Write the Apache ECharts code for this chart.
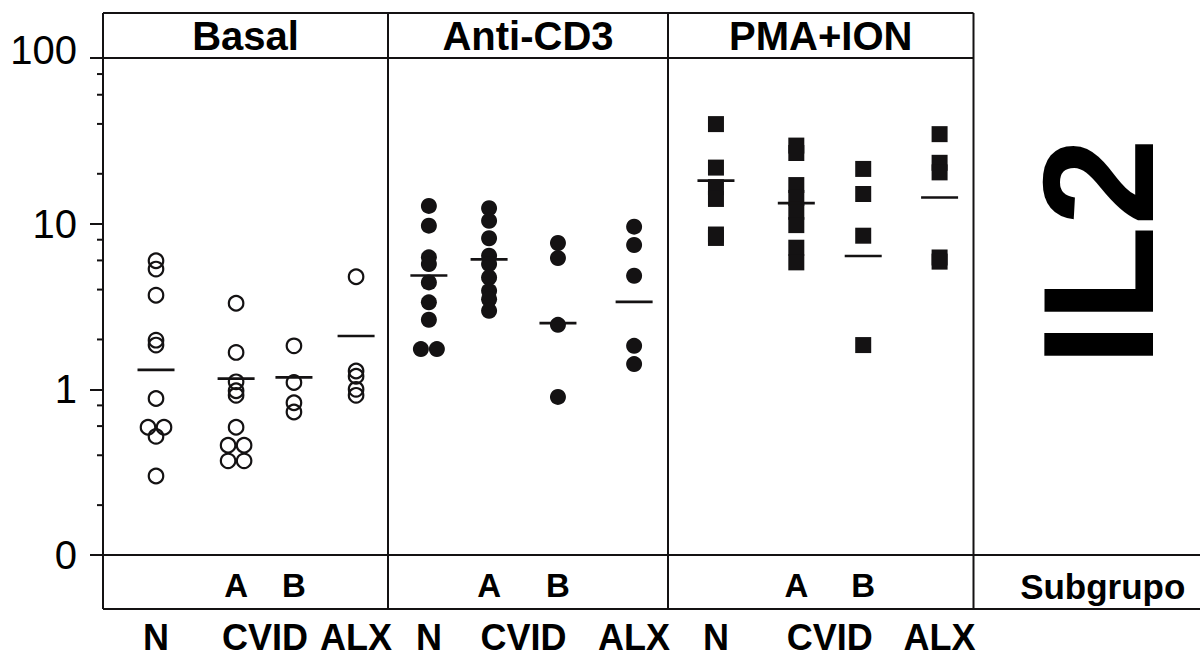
<!DOCTYPE html>
<html>
<head>
<meta charset="utf-8">
<script src="https://cdn.jsdelivr.net/npm/echarts@6/dist/echarts.min.js"></script>
<style>
html,body{margin:0;padding:0;background:#fff;}
#chart{width:1200px;height:659px;}
</style>
</head>
<body>
<div id="chart"></div>
<script>
// ---------------- data ----------------
const panels = ['Basal', 'Anti-CD3', 'PMA+ION'];
const groups = ['N', 'CVID A', 'CVID B', 'ALX'];
const groupLabels = ['N', 'CVID', 'ALX'];
const subgroupLabels = ['A', 'B'];
const subgroupTitle = 'Subgrupo';
const cytokine = 'IL2';

const yTickValues = [0.1, 1, 10, 100];
const yTickLabels = ['0', '1', '10', '100'];
const yMinorTickValues = [0.2, 0.4, 0.6, 0.8, 2, 4, 6, 8, 20, 40, 60, 80];

// Basal (open circles)
const basalN   = [5.97, 5.32, 3.70, 1.98, 1.85, 0.88, 0.59, 0.59, 0.52, 0.30];
const basalA   = [3.31, 1.67, 1.11, 0.98, 0.92, 0.59, 0.46, 0.46, 0.37, 0.37];
const basalB   = [1.83, 1.10, 0.83, 0.73];
const basalALX = [4.78, 1.29, 1.20, 1.00, 0.92];
const basalMeans = [1.31, 1.16, 1.18, 2.10];

// Anti-CD3 (filled circles)
const antiN   = [12.8, 9.73, 6.26, 5.71, 4.42, 3.35, 2.63, 1.75, 1.75];
const antiA   = [12.4, 10.4, 8.16, 6.4, 5.71, 4.74, 3.93, 3.5, 2.98];
const antiB   = [7.64, 6.2, 2.45, 0.90];
const antiALX = [9.59, 7.43, 4.85, 1.83, 1.42];
const antiMeans = [4.87, 6.09, 2.51, 3.37];

// PMA+ION (filled squares)
const pmaN   = [39.9, 21.8, 16.6, 14.1, 8.6, 8.2];
const pmaA   = [29.6, 26.7, 17.1, 14.3, 11.8, 9.8, 7.16, 5.84];
const pmaB   = [21.4, 15.1, 8.46, 1.85];
const pmaALX = [34.7, 23.3, 20.4, 6.25, 5.9];
const pmaMeans = [18.2, 13.3, 6.38, 14.4];

// ---------------- layout / style ----------------
const panelData = [[basalN, basalA, basalB, basalALX], [antiN, antiA, antiB, antiALX], [pmaN, pmaA, pmaB, pmaALX]];
const panelMeans = [basalMeans, antiMeans, pmaMeans];
const FONT = "'Liberation Sans', Arial, Helvetica, sans-serif";
const INK = '#141213';
const PANEL_PX = [{left: 103, width: 285}, {left: 388, width: 280}, {left: 668, width: 305.5}];
const FRAME_TOP = 13, HEADER_Y = 58, AXIS_Y = 555, FRAME_BOTTOM = 609, CHART_W = 1200;
const COL_POS = [[0.186, 0.467, 0.670, 0.888], [0.146, 0.361, 0.607, 0.879], [0.157, 0.420, 0.639, 0.889]];
const MARKERS = [
  {symbol: 'circle', size: 14.5, itemStyle: {color: 'rgba(255,255,255,0)', borderColor: INK, borderWidth: 2.2, opacity: 1}},
  {symbol: 'circle', size: 16, itemStyle: {color: INK, opacity: 1}},
  {symbol: 'rect', size: 16, itemStyle: {color: INK, opacity: 1}}
];

function tickLabel(v) {
  for (let i = 0; i < yTickValues.length; i++) {
    if (Math.abs(Math.log10(v) - Math.log10(yTickValues[i])) < 1e-6) {
      return i === yTickValues.length - 1 ? '{hi|' + yTickLabels[i] + '}' : yTickLabels[i];
    }
  }
  return '';
}

const grid = PANEL_PX.map(p => ({left: p.left, width: p.width, top: HEADER_Y, height: AXIS_Y - HEADER_Y}));

const xAxis = [];
const yAxis = [];
PANEL_PX.forEach((p, i) => {
  const pos = COL_POS[i];
  const abPos = [pos[1], pos[2]];
  const namePos = [pos[0], (pos[1] + pos[2]) / 2, pos[3]];
  // data axis carrying the subgroup labels A / B
  xAxis.push({
    type: 'value', gridIndex: i, min: 0, max: 1, position: 'bottom', offset: 0,
    axisLine: {show: false}, axisTick: {show: false}, splitLine: {show: false},
    axisLabel: {
      show: true, customValues: abPos, margin: 30, verticalAlign: 'middle', hideOverlap: false,
      fontFamily: FONT, fontWeight: 'bold', fontSize: 33, color: '#000', lineHeight: 30,
      formatter: v => subgroupLabels[abPos.findIndex(a => Math.abs(a - v) < 1e-9)] || ''
    }
  });
  // group name labels
  xAxis.push({
    type: 'value', gridIndex: i, min: 0, max: 1, position: 'bottom', offset: 0,
    axisLine: {show: false}, axisTick: {show: false}, splitLine: {show: false},
    axisLabel: {
      show: true, customValues: namePos, margin: 82, verticalAlign: 'middle', hideOverlap: false,
      fontFamily: FONT, fontWeight: 'bold', fontSize: 36, color: '#000', lineHeight: 30,
      formatter: v => groupLabels[namePos.findIndex(a => Math.abs(a - v) < 1e-9)] || ''
    }
  });
  yAxis.push({
    type: 'log', logBase: 10, gridIndex: i, min: 0.1, max: 100,
    show: i === 0,
    axisLine: {show: false},
    splitLine: {show: false},
    axisTick: {show: i === 0, length: 13, lineStyle: {color: INK, width: 2}},
    axisLabel: {
      show: i === 0, margin: 26, fontFamily: FONT, fontSize: 40, color: '#000',
      formatter: tickLabel,
      rich: {hi: {fontFamily: FONT, fontSize: 40, color: '#000', padding: [0, 0, 16, 0]}}
    }
  });
});

const series = [];
panelData.forEach((groupsData, p) => {
  const m = MARKERS[p];
  groupsData.forEach((vals, g) => {
    const seen = {};
    const data = vals.map(v => {
      const dupCount = vals.filter(w => w === v).length;
      let off = 0;
      if (dupCount > 1) {
        seen[v] = (seen[v] || 0) + 1;
        off = seen[v] === 1 ? -8 : 8;
      }
      return {value: [COL_POS[p][g], v], symbolOffset: [off, 0]};
    });
    series.push({
      type: 'scatter', name: panels[p] + ' ' + groups[g], xAxisIndex: 2 * p, yAxisIndex: p,
      symbol: m.symbol, symbolSize: m.size, itemStyle: m.itemStyle, data: data, z: 2,
      emphasis: {disabled: true}
    });
  });
  series.push({
    type: 'scatter', name: panels[p] + ' mean', xAxisIndex: 2 * p, yAxisIndex: p,
    symbol: 'rect', symbolSize: [37, 2.6], itemStyle: {color: INK, opacity: 1}, z: 4,
    data: panelMeans[p].map((v, g) => [COL_POS[p][g], v]),
    emphasis: {disabled: true}
  });
});
// minor ticks of the log axis, positioned by the axis scale
series.push({
  type: 'custom', xAxisIndex: 0, yAxisIndex: 0, clip: false, silent: true,
  data: yMinorTickValues.map(v => [0, v]),
  renderItem: (params, api) => {
    const pt = api.coord([api.value(0), api.value(1)]);
    return {type: 'line', shape: {x1: pt[0] - 6, y1: pt[1], x2: pt[0], y2: pt[1]},
      style: {stroke: INK, lineWidth: 2}};
  }
});

// frame lines
const right = PANEL_PX[2].left + PANEL_PX[2].width;
const frame = [
  [PANEL_PX[0].left, FRAME_TOP, right, FRAME_TOP],
  [PANEL_PX[0].left, HEADER_Y, right, HEADER_Y],
  [PANEL_PX[0].left, AXIS_Y, CHART_W, AXIS_Y],
  [PANEL_PX[0].left, FRAME_BOTTOM, CHART_W, FRAME_BOTTOM],
  [PANEL_PX[0].left, FRAME_TOP, PANEL_PX[0].left, FRAME_BOTTOM],
  [PANEL_PX[1].left, FRAME_TOP, PANEL_PX[1].left, FRAME_BOTTOM],
  [PANEL_PX[2].left, FRAME_TOP, PANEL_PX[2].left, FRAME_BOTTOM],
  [right, FRAME_TOP, right, FRAME_BOTTOM]
];
const graphic = frame.map(l => ({
  type: 'line', shape: {x1: l[0], y1: l[1], x2: l[2], y2: l[3]},
  style: {stroke: INK, lineWidth: 2}, silent: true, z: 10
}));
PANEL_PX.forEach((p, i) => {
  graphic.push({
    type: 'text', x: p.left + p.width / 2, y: (FRAME_TOP + HEADER_Y) / 2 + 0.5,
    style: {text: panels[i], fontFamily: FONT, fontWeight: 'bold', fontSize: 40, fill: '#000',
      align: 'center', verticalAlign: 'middle'}
  });
});
graphic.push({
  type: 'text', x: (right + CHART_W) / 2 + 16, y: (AXIS_Y + FRAME_BOTTOM) / 2 + 4,
  style: {text: subgroupTitle, fontFamily: FONT, fontWeight: 'bold', fontSize: 35, fill: '#000',
    align: 'center', verticalAlign: 'middle'}
});
graphic.push({
  type: 'text', x: 1098, y: 252, rotation: Math.PI / 2,
  style: {text: cytokine, fontFamily: FONT, fontWeight: 'bold', fontSize: 158, fill: '#000',
    align: 'center', verticalAlign: 'middle'}
});

const chart = echarts.init(document.getElementById('chart'), null, {renderer: 'svg'});
chart.setOption({
  animation: false,
  backgroundColor: '#fff',
  grid: grid,
  xAxis: xAxis,
  yAxis: yAxis,
  series: series,
  graphic: graphic
});
</script>
</body>
</html>
